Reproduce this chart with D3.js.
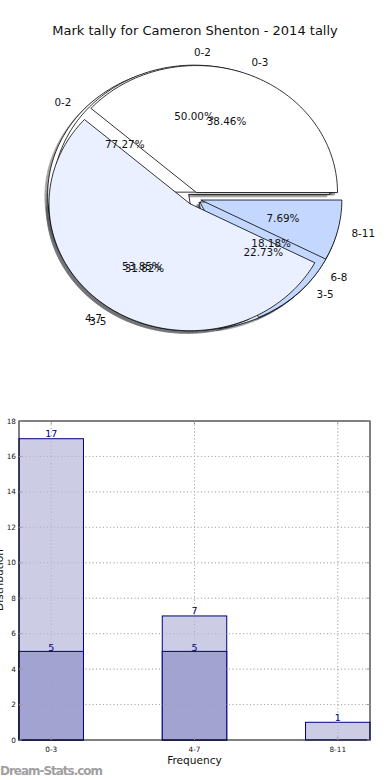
<!DOCTYPE html>
<html><head><meta charset="utf-8">
<script src="https://cdn.jsdelivr.net/npm/d3@7"></script>
<style>body{margin:0;background:#fff}svg{display:block;font-family:"DejaVu Sans",sans-serif}</style>
</head><body><svg id="c" width="390" height="780"></svg>
<script>
// ---- data ----
const chartTitle = "Mark tally for Cameron Shenton - 2014 tally";
const pieCLabels = ["0-2", "3-5"];
const pieCValues = [17, 5];
const pieBLabels = ["0-2", "3-5", "6-8"];
const pieBValues = [11, 7, 4];
const pieALabels = ["0-3", "4-7", "8-11"];
const pieAValues = [5, 7, 1];
const pieColors = ["#ffffff", "#eaf0ff", "#c4d8ff"];
const barCategories = ["0-3", "4-7", "8-11"];
const barTotals = [17, 7, 1];
const barParts = [5, 5, 0];
const yTickValues = [0, 2, 4, 6, 8, 10, 12, 14, 16, 18];
const xAxisLabel = "Frequency";
const yAxisLabel = "Distribution";
const watermark = "Dream-Stats.com";

const svg = d3.select("#c");

svg.append("text").attr("x", 195).attr("y", 30).attr("dy", "0.35em")
  .attr("text-anchor", "middle").attr("font-size", 13).attr("fill", "#111").text(chartTitle);

// ---- pie ----
const cx = 194, cy = 198.5, rx = 141, ry = 127;
const px = d3.scaleLinear().domain([-1, 1]).range([cx - rx, cx + rx]);
const py = d3.scaleLinear().domain([-1, 1]).range([cy + ry, cy - ry]);
const explode = 0.05;
const pieGen = d3.pie().sort(null).startAngle(Math.PI / 2).endAngle(Math.PI / 2 - 2 * Math.PI);
const line = d3.line().x(d => px(d[0])).y(d => py(d[1]));

function wedgePts(ox, oy, t1, t2) {
  const pts = [[ox, oy]];
  const n = Math.max(8, Math.ceil(Math.abs(t2 - t1) / 0.02));
  for (let i = 0; i <= n; i++) {
    const t = t1 + (t2 - t1) * i / n;
    pts.push([ox + Math.cos(t), oy + Math.sin(t)]);
  }
  pts.push([ox, oy]);
  return pts;
}

const pies = [
  {labels: pieCLabels, values: pieCValues},
  {labels: pieBLabels, values: pieBValues},
  {labels: pieALabels, values: pieAValues}
];
const shadowG = svg.append("g");
const wedgeG = svg.append("g");
const textG = svg.append("g");

pies.forEach(p => {
  const arcs = pieGen(p.values);
  const total = d3.sum(p.values);
  arcs.forEach((a, i) => {
    const t1 = Math.PI / 2 - a.startAngle, t2 = Math.PI / 2 - a.endAngle;
    const tm = (t1 + t2) / 2;
    const ox = explode * Math.cos(tm), oy = explode * Math.sin(tm);
    const col = d3.rgb(pieColors[i % pieColors.length]);
    const sc = d3.rgb(col.r * 0.3, col.g * 0.3, col.b * 0.3);
    shadowG.append("path").attr("d", line(wedgePts(ox - 0.02, oy - 0.02, t1, t2)) + "Z")
      .attr("fill", sc).attr("stroke", sc).attr("stroke-width", 0.8).attr("opacity", 0.5);
    wedgeG.append("path").attr("d", line(wedgePts(ox, oy, t1, t2)) + "Z")
      .attr("fill", col).attr("stroke", "#000").attr("stroke-width", 0.8).attr("stroke-linejoin", "miter");
    const lx = ox + 1.1 * Math.cos(tm), ly = oy + 1.1 * Math.sin(tm);
    textG.append("text").attr("x", px(lx)).attr("y", py(ly)).attr("dy", "0.35em")
      .attr("text-anchor", lx > 0 ? "start" : "end").attr("font-size", 10.4).attr("fill", "#111")
      .text(p.labels[i]);
    const qx = ox + 0.6 * Math.cos(tm), qy = oy + 0.6 * Math.sin(tm);
    textG.append("text").attr("x", px(qx)).attr("y", py(qy)).attr("dy", "0.35em")
      .attr("text-anchor", "middle").attr("font-size", 10.4).attr("fill", "#111")
      .text((p.values[i] / total * 100).toFixed(2) + "%");
  });
});

// ---- bar chart ----
const L = 19, R = 370, T = 421, B = 740;
const x = d3.scaleLinear().domain([-0.225, 2.225]).range([L, R]);
const y = d3.scaleLinear().domain([0, 18]).range([B, T]);
const bw = 0.45;
const g = svg.append("g");

// grid
g.selectAll(".gy").data(yTickValues.slice(1, -1)).join("line")
  .attr("x1", L).attr("x2", R).attr("y1", d => y(d)).attr("y2", d => y(d))
  .attr("stroke", "#b4b4b4").attr("stroke-width", 1).attr("stroke-dasharray", "1,2.5");
g.selectAll(".gx").data(barCategories).join("line")
  .attr("x1", (d, i) => x(i)).attr("x2", (d, i) => x(i)).attr("y1", T).attr("y2", B)
  .attr("stroke", "#b4b4b4").attr("stroke-width", 1).attr("stroke-dasharray", "1,2.5");

// bars
const bars = g.append("g");
bars.selectAll(".bt").data(barTotals).join("rect")
  .attr("x", (d, i) => x(i - bw / 2)).attr("width", x(bw) - x(0))
  .attr("y", d => y(d)).attr("height", d => B - y(d))
  .attr("fill", "#ccccE5").attr("stroke", "#000080").attr("stroke-width", 1);
bars.selectAll(".bp").data(barParts).join("rect")
  .attr("x", (d, i) => x(i - bw / 2)).attr("width", x(bw) - x(0))
  .attr("y", d => y(d)).attr("height", d => B - y(d))
  .attr("fill", "#a3a3d1").attr("stroke", "#000080").attr("stroke-width", d => d > 0 ? 1 : 0);

// grid over bars (matplotlib draws grid visible over patches)
g.selectAll(".gy2").data(yTickValues.slice(1, -1)).join("line")
  .attr("x1", L).attr("x2", R).attr("y1", d => y(d)).attr("y2", d => y(d))
  .attr("stroke", "#9a9aa8").attr("stroke-opacity", 0.55).attr("stroke-width", 1).attr("stroke-dasharray", "1,2.5");
g.selectAll(".gx2").data(barCategories).join("line")
  .attr("x1", (d, i) => x(i)).attr("x2", (d, i) => x(i)).attr("y1", T).attr("y2", B)
  .attr("stroke", "#9a9aa8").attr("stroke-opacity", 0.55).attr("stroke-width", 1).attr("stroke-dasharray", "1,2.5");

// value labels
g.selectAll(".lt").data(barTotals).join("text")
  .attr("x", (d, i) => x(i)).attr("y", d => y(d) - 1.5)
  .attr("text-anchor", "middle").attr("font-size", 9.5).attr("fill", "#000080").text(d => d);
g.selectAll(".lp").data(barParts.filter(d => d > 0)).join("text")
  .attr("x", (d, i) => x(i)).attr("y", d => y(d))
  .attr("text-anchor", "middle").attr("font-size", 9.5).attr("fill", "#000080").text(d => d);

// frame
g.append("rect").attr("x", L).attr("y", T).attr("width", R - L).attr("height", B - T)
  .attr("fill", "none").attr("stroke", "#000").attr("stroke-width", 1);

// ticks
g.selectAll(".tyl").data(yTickValues).join("line")
  .attr("x1", L).attr("x2", L + 3).attr("y1", d => y(d)).attr("y2", d => y(d)).attr("stroke", "#999");
g.selectAll(".tyr").data(yTickValues).join("line")
  .attr("x1", R - 3).attr("x2", R).attr("y1", d => y(d)).attr("y2", d => y(d)).attr("stroke", "#999");
g.selectAll(".txb").data(barCategories).join("line")
  .attr("x1", (d, i) => x(i)).attr("x2", (d, i) => x(i)).attr("y1", B - 3).attr("y2", B).attr("stroke", "#999");
g.selectAll(".txt").data(barCategories).join("line")
  .attr("x1", (d, i) => x(i)).attr("x2", (d, i) => x(i)).attr("y1", T).attr("y2", T + 3).attr("stroke", "#999");

g.selectAll(".yl").data(yTickValues).join("text")
  .attr("x", L - 3).attr("y", d => y(d)).attr("dy", "0.35em").attr("text-anchor", "end")
  .attr("font-size", 7.3).attr("fill", "#111").text(d => d);
g.selectAll(".xl").data(barCategories).join("text")
  .attr("x", (d, i) => x(i)).attr("y", B + 9.5).attr("dy", "0.35em").attr("text-anchor", "middle")
  .attr("font-size", 7.3).attr("fill", "#111").text(d => d);

svg.append("text").attr("x", x(1)).attr("y", 760).attr("dy", "0.35em").attr("text-anchor", "middle")
  .attr("font-size", 10.6).attr("fill", "#111").text(xAxisLabel);
svg.append("text").attr("transform", "translate(3,580) rotate(-90)").attr("text-anchor", "middle")
  .attr("font-size", 10.6).attr("fill", "#111").text(yAxisLabel);

svg.append("text").attr("x", 0).attr("y", 775).attr("font-size", 12).attr("font-weight", "bold")
  .attr("fill", "#a0a0a0").attr("textLength", 103).text(watermark);
</script></body></html>
